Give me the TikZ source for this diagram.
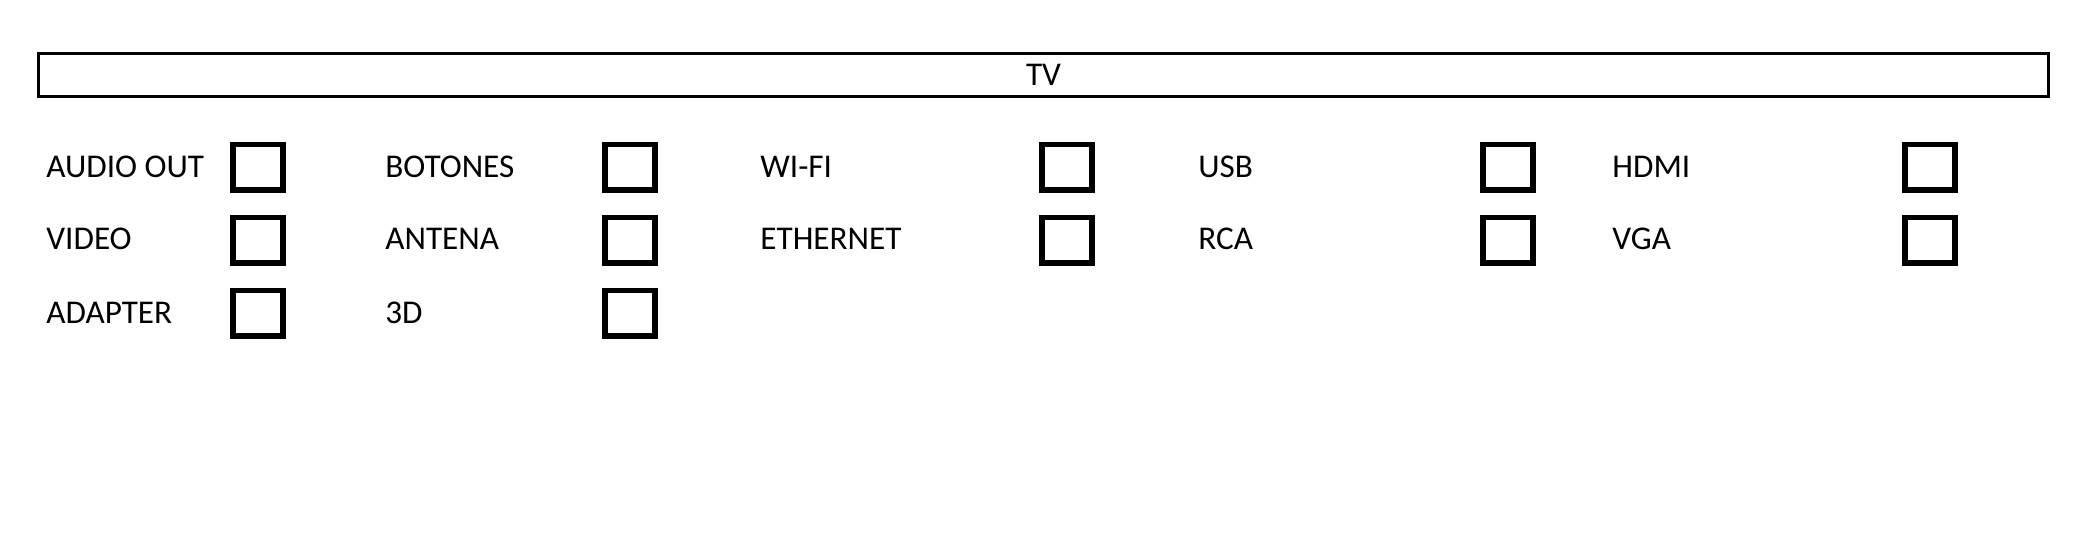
\documentclass[tikz,border=0pt]{standalone}
\usepackage{fontspec}
\setmainfont{Carlito}
\usepackage{tikz}
\usetikzlibrary{positioning}

\begin{document}
\begin{tikzpicture}[x=0.5pt, y=-0.5pt,
    lbl/.style={anchor=base west, inner sep=0pt, font=\fontsize{16.6}{19}\selectfont},
    chkbox/.style={draw, rectangle, line width=2.8pt, minimum width=25.2pt, minimum height=22.7pt, inner sep=0pt}]
    \useasboundingbox (0,0) rectangle (2083,546);
    % Header
    \node [draw, rectangle, line width=1.4pt, minimum width=1005pt, minimum height=21.5pt, inner sep=0pt,
           font=\fontsize{16.6}{19}\selectfont] (tv) at (1043.5,75) {TV};
    % Labels
    \node [lbl] (audio) at (46,177.5) {AUDIO OUT};
    \node [lbl] (botones) at (385,177.5) {BOTONES};
    \node [lbl] (wifi) at (760,177.5) {WI-FI};
    \node [lbl] (usb) at (1198,177.5) {USB};
    \node [lbl] (hdmi) at (1612,177.5) {HDMI};

    \node [lbl] (video) at (46,249.5) {VIDEO};
    \node [lbl] (antena) at (385,249.5) {ANTENA};
    \node [lbl] (ethernet) at (760,249.5) {ETHERNET};
    \node [lbl] (rca) at (1198,249.5) {RCA};
    \node [lbl] (vga) at (1612,249.5) {VGA};

    \node [lbl] (adapter) at (46,323.5) {ADAPTER};
    \node [lbl] (threed) at (385,323.5) {3D};
    % Boxes
    \node [chkbox] (audiobox) at (258,167) {};
    \node [chkbox] (botonesbox) at (630,167) {};
    \node [chkbox] (wifibox) at (1067,167) {};
    \node [chkbox] (usbbox) at (1508,167) {};
    \node [chkbox] (hdmibox) at (1930,167) {};

    \node [chkbox] (videobox) at (258,240) {};
    \node [chkbox] (antenabox) at (630,240) {};
    \node [chkbox] (ethernetbox) at (1067,240) {};
    \node [chkbox] (rcabox) at (1508,240) {};
    \node [chkbox] (vgabox) at (1930,240) {};

    \node [chkbox] (adapterbox) at (258,313) {};
    \node [chkbox] (threedbox) at (630,313) {};
\end{tikzpicture}
\end{document}
